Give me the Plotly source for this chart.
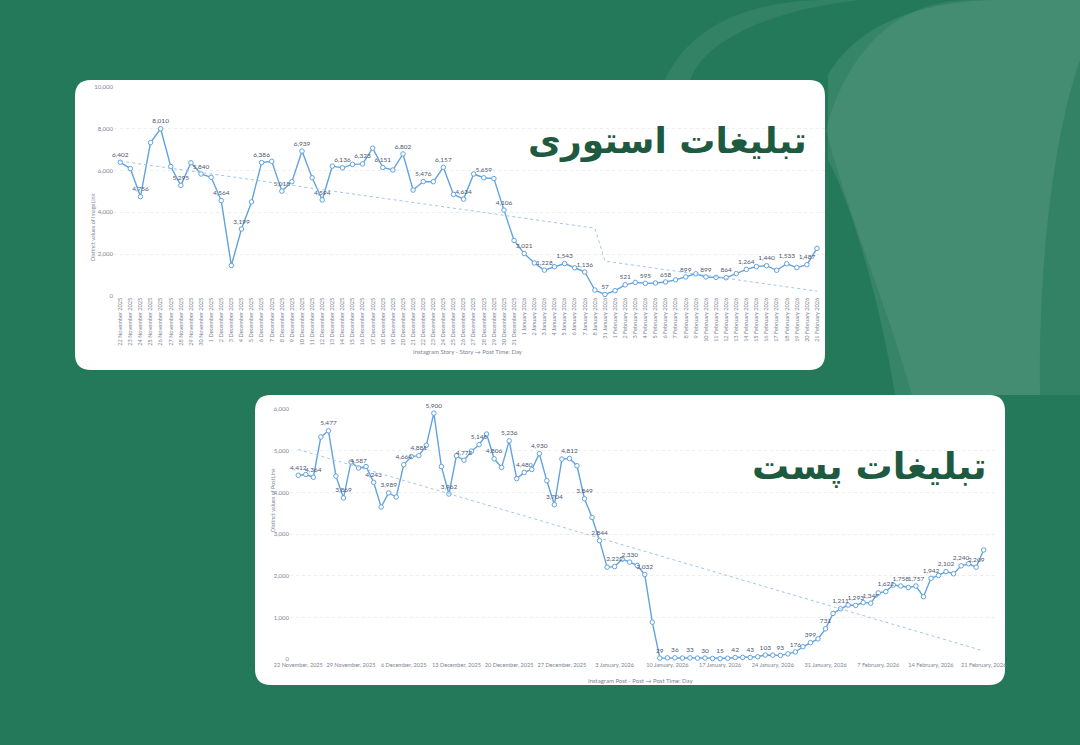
import plotly.graph_objects as go
import pandas as pd

W, H = 1080, 745

# ---------------- data: Instagram Story (top card) ----------------
story_days = list(pd.date_range("2025-11-22", "2026-01-08")) + list(pd.date_range("2026-01-31", "2026-02-21"))
story_categories = [f"{d.day} {d.strftime('%B %Y')}" for d in story_days]
story_values = [
    6402, 6100, 4756, 7350, 8010, 6200, 5295, 6380, 5840, 5680,
    4564, 1450, 3199, 4500, 6386, 6450, 5018, 5470, 6939, 5660,
    4594, 6220, 6136, 6300, 6323, 7080, 6151, 6030, 6802, 5070,
    5476, 5470, 6157, 4860, 4634, 5840, 5659, 5620, 4106, 2650,
    2021, 1570, 1228, 1390, 1543, 1340, 1136, 270, 57, 240,
    521, 640, 595, 610, 658, 760, 899, 1050, 899, 880,
    864, 1060, 1264, 1400, 1440, 1220, 1533, 1350, 1487, 2270,
]
story_trend_idx = [0, 47, 48, 69]
story_trend_values = [6460, 3240, 1660, 220]
story_yticks = [0, 2000, 4000, 6000, 8000, 10000]

# ---------------- data: Instagram Post (bottom card) ----------------
post_dates = list(pd.date_range("2025-11-22", "2026-02-21"))
post_values = [
    4412, 4430, 4364, 5330, 5477, 4390, 3869, 4730, 4587, 4620,
    4243, 3650, 3989, 3890, 4664, 4860, 4881, 5130, 5900, 4620,
    3962, 4880, 4772, 4990, 5145, 5400, 4806, 4600, 5236, 4330,
    4480, 4550, 4930, 4280, 3704, 4800, 4812, 4640, 3849, 3400,
    2844, 2210, 2222, 2400, 2330, 2250, 2032, 890, 29, 35,
    36, 30, 33, 28, 30, 20, 15, 25, 42, 45,
    43, 60, 103, 100, 93, 130, 176, 300, 399, 490,
    731, 1100, 1211, 1300, 1293, 1360, 1347, 1590, 1622, 1780,
    1758, 1720, 1757, 1500, 1942, 2010, 2102, 2050, 2240, 2290,
    2209, 2620,
]
post_trend_dates = ["2025-11-22", "2026-02-21"]
post_trend_values = [5030, 200]
post_yticks = [0, 1000, 2000, 3000, 4000, 5000, 6000]

# ---------------- styling ----------------
BG = "#24795a"
LINE = "#62a3de"
TREND = "#9fc6ea"
TICK = "#7d8494"
LABEL = "#4c5773"
TITLE = "#1d5a40"
FONT = "Lato"


def px(x):
    return x / W


def py(y):
    return 1 - y / H


def path(cmds, close=True):
    s = ""
    for cmd, ps in cmds:
        s += cmd + " " + " ".join(f"{px(a):.5f},{py(b):.5f}" for a, b in ps) + " "
    return s + ("Z" if close else "")


def rrect(x0, y0, x1, y1, r):
    return path([
        ("M", [(x0 + r, y0)]), ("L", [(x1 - r, y0)]), ("Q", [(x1, y0), (x1, y0 + r)]),
        ("L", [(x1, y1 - r)]), ("Q", [(x1, y1), (x1 - r, y1)]), ("L", [(x0 + r, y1)]),
        ("Q", [(x0, y1), (x0, y1 - r)]), ("L", [(x0, y0 + r)]), ("Q", [(x0, y0), (x0 + r, y0)]),
    ])


def labels(vals):
    return [f"{v:,}" if i % 2 == 0 else "" for i, v in enumerate(vals)]


fig = go.Figure()

# top chart
fig.add_trace(go.Scatter(
    x=story_categories, y=story_values, mode="lines+markers+text",
    text=labels(story_values), textposition="top center",
    textfont=dict(family=FONT, size=6.5, color=LABEL),
    line=dict(color=LINE, width=1.4),
    marker=dict(size=4.5, color="white", line=dict(color=LINE, width=1)),
    xaxis="x", yaxis="y", showlegend=False, cliponaxis=False))
fig.add_trace(go.Scatter(
    x=[story_categories[i] for i in story_trend_idx], y=story_trend_values,
    mode="lines", line=dict(color=TREND, width=1, dash="3px,3px"),
    xaxis="x", yaxis="y", hoverinfo="skip", showlegend=False))

# bottom chart
fig.add_trace(go.Scatter(
    x=post_dates, y=post_values, mode="lines+markers+text",
    text=labels(post_values), textposition="top center",
    textfont=dict(family=FONT, size=6.5, color=LABEL),
    line=dict(color=LINE, width=1.4),
    marker=dict(size=4.5, color="white", line=dict(color=LINE, width=1)),
    xaxis="x2", yaxis="y2", showlegend=False, cliponaxis=False))
fig.add_trace(go.Scatter(
    x=post_trend_dates, y=post_trend_values,
    mode="lines", line=dict(color=TREND, width=1, dash="3px,3px"),
    xaxis="x2", yaxis="y2", hoverinfo="skip", showlegend=False))

shapes = [
    # decorative light leaf shapes on the background
    dict(type="path", xref="paper", yref="paper", layer="below", line=dict(width=0),
         fillcolor="rgba(255,255,255,0.07)",
         path=path([("M", [(665, 80)]), ("C", [(690, 25), (750, 0), (830, 0)]),
                    ("L", [(860, 0)]), ("C", [(770, 10), (705, 40), (690, 80)])])),
    dict(type="path", xref="paper", yref="paper", layer="below", line=dict(width=0),
         fillcolor="rgba(255,255,255,0.07)",
         path=path([("M", [(826, 130)]), ("C", [(845, 60), (890, 0), (970, 0)]),
                    ("L", [(1080, 0)]), ("L", [(1080, 395)]), ("L", [(912, 395)]),
                    ("C", [(885, 300), (850, 220), (826, 130)])])),
    dict(type="path", xref="paper", yref="paper", layer="below", line=dict(width=0),
         fillcolor="rgba(255,255,255,0.09)",
         path=path([("M", [(828, 75)]), ("C", [(860, 20), (930, 0), (1000, 0)]),
                    ("L", [(1080, 0)]), ("L", [(1080, 60)]),
                    ("C", [(1055, 130), (1038, 260), (1040, 395)]),
                    ("L", [(895, 395)]), ("C", [(880, 300), (850, 200), (828, 160)])])),
    # white cards
    dict(type="path", xref="paper", yref="paper", layer="below", line=dict(width=0),
         fillcolor="white", path=rrect(75, 80, 825, 370, 16)),
    dict(type="path", xref="paper", yref="paper", layer="below", line=dict(width=0),
         fillcolor="white", path=rrect(255, 395, 1005, 685, 16)),
]

annotations = [
    dict(text="<b>تبلیغات استوری</b>", x=px(667), y=py(141), xref="paper", yref="paper",
         showarrow=False, font=dict(family="DejaVu Sans", size=36, color=TITLE),
         xanchor="center", yanchor="middle"),
    dict(text="<b>تبلیغات پست</b>", x=px(869), y=py(466), xref="paper", yref="paper",
         showarrow=False, font=dict(family="DejaVu Sans", size=37, color=TITLE),
         xanchor="center", yanchor="middle"),
    dict(text="Distinct values of ImageLink", x=px(88), y=py(191), xref="paper", yref="paper",
         showarrow=False, textangle=-90, font=dict(family=FONT, size=5.5, color=TICK)),
    dict(text="Instagram Story - Story → Post Time: Day", x=px(468), y=py(352),
         xref="paper", yref="paper", showarrow=False,
         font=dict(family=FONT, size=6, color=TICK)),
    dict(text="Distinct values of PostLink", x=px(268), y=py(534), xref="paper", yref="paper",
         showarrow=False, textangle=-90, font=dict(family=FONT, size=5.5, color=TICK)),
    dict(text="Instagram Post - Post → Post Time: Day", x=px(640), y=py(677),
         xref="paper", yref="paper", showarrow=False, yanchor="top", yshift=2,
         font=dict(family=FONT, size=6, color=TICK)),
]

axis_common = dict(showline=False, zeroline=False, ticks="", fixedrange=True, automargin=False)

fig.update_layout(
    width=W, height=H, margin=dict(l=0, r=0, t=0, b=0, pad=0, autoexpand=False),
    paper_bgcolor=BG, plot_bgcolor="rgba(0,0,0,0)",
    shapes=shapes, annotations=annotations, showlegend=False,
    xaxis=dict(**axis_common, type="category", domain=[px(114), px(825)],
               categoryorder="array", categoryarray=story_categories,
               range=[-0.62, 69.79], anchor="y", tickangle=-90, showgrid=False,
               tickfont=dict(family=FONT, size=5.6, color=TICK)),
    yaxis=dict(**axis_common, domain=[py(295.7), py(87.3)], range=[0, 10000], anchor="x",
               tickvals=story_yticks, tickformat=",", showgrid=True,
               gridcolor="#eceef2", griddash="dot", gridwidth=1,
               tickfont=dict(family=FONT, size=6, color=TICK)),
    xaxis2=dict(**axis_common, type="date", domain=[px(290), px(995)],
                range=["2025-11-20 21:36", "2026-02-22 12:00"], anchor="y2",
                tick0="2025-11-22", dtick=7 * 86400000, tickformat="%-d %B, %Y",
                tickangle=0, showgrid=False, ticklabelstandoff=1,
                tickfont=dict(family=FONT, size=5.6, color=TICK)),
    yaxis2=dict(**axis_common, domain=[py(659.3), py(409)], range=[0, 6000], anchor="x2",
                tickvals=post_yticks, tickformat=",", showgrid=True,
                gridcolor="#eceef2", griddash="dot", gridwidth=1,
                tickfont=dict(family=FONT, size=6, color=TICK)),
)

fig.write_html("out.html", config={"displayModeBar": False},
               post_script="document.body.style.margin='0';document.body.style.overflow='hidden';")
